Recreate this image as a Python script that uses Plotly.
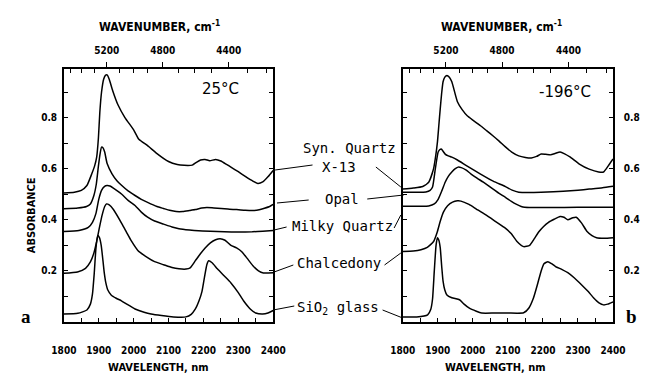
import plotly.graph_objects as go

# ---------------- data ----------------
# 25 °C panel
wl_syn_25 = [1800,1830,1850,1866,1880,1888,1894,1899,1903,1908,1914,1919,1924,1930,1940,1955,1975,2000,2015,2040,2066,2100,2125,2145,2168,2180,2192,2205,2218,2235,2250,2265,2280,2300,2320,2340,2356,2370,2385,2400]
ab_syn_25 = [0.505,0.508,0.515,0.534,0.58,0.61,0.645,0.72,0.82,0.9,0.95,0.965,0.967,0.95,0.905,0.85,0.8,0.752,0.715,0.69,0.66,0.628,0.616,0.613,0.614,0.625,0.634,0.636,0.631,0.636,0.63,0.618,0.605,0.588,0.57,0.553,0.542,0.548,0.568,0.593]

wl_opal_25 = [1800,1840,1865,1876,1886,1893,1899,1904,1908,1912,1917,1924,1938,1952,1966,1985,2004,2022,2040,2067,2086,2103,2122,2141,2160,2177,2195,2210,2230,2251,2275,2295,2320,2342,2360,2375,2390,2400]
ab_opal_25 = [0.443,0.446,0.452,0.462,0.495,0.54,0.61,0.66,0.684,0.682,0.665,0.62,0.58,0.553,0.534,0.512,0.495,0.48,0.468,0.452,0.444,0.437,0.432,0.432,0.436,0.44,0.446,0.448,0.446,0.444,0.441,0.44,0.437,0.436,0.439,0.445,0.452,0.46]

wl_milky_25 = [1800,1843,1870,1882,1892,1900,1908,1916,1924,1932,1948,1966,1985,2004,2022,2040,2060,2086,2110,2130,2160,2186,2220,2260,2300,2340,2370,2400]
ab_milky_25 = [0.354,0.358,0.37,0.39,0.425,0.48,0.515,0.53,0.534,0.532,0.518,0.5,0.475,0.456,0.43,0.41,0.395,0.383,0.372,0.365,0.36,0.357,0.355,0.353,0.352,0.353,0.355,0.358]

wl_chal_25 = [1800,1839,1862,1876,1886,1894,1902,1910,1917,1922,1930,1942,1966,1980,1993,2012,2040,2060,2086,2110,2130,2150,2162,2177,2192,2205,2220,2235,2248,2262,2279,2295,2310,2325,2342,2358,2372,2400]
ab_chal_25 = [0.191,0.196,0.21,0.235,0.27,0.315,0.37,0.42,0.452,0.462,0.458,0.44,0.385,0.35,0.318,0.28,0.252,0.236,0.224,0.213,0.208,0.207,0.212,0.24,0.268,0.29,0.31,0.322,0.326,0.32,0.3,0.29,0.275,0.25,0.22,0.2,0.192,0.193]

wl_sio2_25 = [1800,1840,1866,1876,1882,1887,1892,1897,1902,1907,1912,1916,1920,1926,1936,1950,1965,1980,2004,2030,2050,2080,2114,2150,2165,2177,2188,2196,2203,2210,2215,2225,2240,2260,2279,2300,2315,2335,2350,2370,2385,2400]
ab_sio2_25 = [0.031,0.034,0.047,0.07,0.11,0.19,0.29,0.338,0.33,0.3,0.24,0.19,0.155,0.125,0.105,0.093,0.083,0.07,0.051,0.038,0.031,0.025,0.02,0.02,0.03,0.051,0.085,0.12,0.175,0.225,0.24,0.232,0.208,0.18,0.153,0.115,0.083,0.05,0.035,0.031,0.035,0.045]

# -196 °C panel
wl_syn_196 = [1800,1830,1857,1874,1888,1894,1899,1903,1907,1911,1915,1920,1926,1933,1940,1956,1970,1984,2000,2022,2040,2058,2075,2093,2111,2131,2150,2167,2182,2195,2208,2222,2236,2249,2262,2277,2304,2332,2359,2373,2386,2400]
ab_syn_196 = [0.52,0.524,0.53,0.547,0.6,0.65,0.705,0.77,0.835,0.895,0.94,0.958,0.965,0.958,0.94,0.862,0.83,0.807,0.79,0.768,0.748,0.728,0.708,0.685,0.665,0.65,0.644,0.642,0.648,0.657,0.656,0.654,0.66,0.665,0.658,0.646,0.618,0.598,0.587,0.587,0.61,0.638]

wl_opal_196 = [1800,1840,1866,1878,1885,1893,1901,1906,1910,1915,1921,1930,1940,1956,1984,2022,2058,2093,2112,2131,2160,2195,2230,2258,2300,2332,2370,2400]
ab_opal_196 = [0.508,0.508,0.509,0.515,0.528,0.6,0.665,0.675,0.677,0.668,0.657,0.65,0.645,0.634,0.61,0.579,0.551,0.53,0.516,0.508,0.507,0.508,0.51,0.512,0.516,0.52,0.525,0.531]

wl_milky_196 = [1800,1850,1874,1890,1901,1912,1921,1930,1940,1950,1958,1967,1980,1995,2012,2030,2058,2075,2093,2110,2125,2138,2148,2170,2220,2300,2400]
ab_milky_196 = [0.453,0.453,0.454,0.462,0.48,0.515,0.547,0.57,0.587,0.6,0.606,0.604,0.595,0.579,0.563,0.547,0.52,0.503,0.488,0.472,0.46,0.452,0.449,0.448,0.448,0.449,0.449]

wl_chal_196 = [1800,1830,1852,1870,1888,1898,1907,1916,1928,1942,1956,1966,1989,2010,2036,2060,2090,2110,2126,2145,2162,2175,2189,2202,2216,2232,2249,2260,2271,2285,2295,2310,2326,2340,2353,2375,2400]
ab_chal_196 = [0.276,0.278,0.283,0.292,0.315,0.35,0.394,0.43,0.455,0.469,0.474,0.473,0.46,0.442,0.42,0.398,0.37,0.345,0.315,0.295,0.3,0.325,0.354,0.374,0.39,0.402,0.413,0.41,0.4,0.408,0.41,0.388,0.354,0.338,0.33,0.328,0.33]

wl_sio2_196 = [1800,1840,1871,1880,1885,1890,1895,1899,1903,1907,1911,1915,1920,1926,1940,1962,1975,1989,2010,2025,2063,2100,2145,2160,2173,2185,2195,2203,2214,2225,2236,2255,2271,2290,2310,2330,2345,2360,2373,2385,2400]
ab_sio2_196 = [0.02,0.02,0.028,0.05,0.09,0.2,0.3,0.33,0.32,0.29,0.22,0.16,0.125,0.106,0.095,0.087,0.07,0.055,0.042,0.035,0.035,0.035,0.036,0.055,0.094,0.15,0.2,0.228,0.236,0.228,0.217,0.205,0.193,0.172,0.146,0.118,0.094,0.075,0.067,0.07,0.079]

wl_ticks = [1800, 1900, 2000, 2100, 2200, 2300, 2400]
abs_ticks = [0.2, 0.4, 0.6, 0.8]
abs_minor = [0.1, 0.3, 0.5, 0.7, 0.9]
wn_major = [5200, 4800, 4400]
wn_minor = [5500, 5400, 5300, 5100, 5000, 4900, 4700, 4600, 4500, 4300, 4200]
sample_labels = ["Syn. Quartz", "X-13", "Opal", "Milky Quartz", "Chalcedony", "SiO<sub>2</sub> glass"]

# ---------------- figure ----------------
W, H = 650, 374
def fx(p): return p / W
def fy(p): return 1 - p / H

fig = go.Figure()
line = dict(color="black", width=1.5, shape="spline", smoothing=0.5)
left = [(wl_syn_25, ab_syn_25), (wl_opal_25, ab_opal_25), (wl_milky_25, ab_milky_25),
        (wl_chal_25, ab_chal_25), (wl_sio2_25, ab_sio2_25)]
right = [(wl_syn_196, ab_syn_196), (wl_opal_196, ab_opal_196), (wl_milky_196, ab_milky_196),
         (wl_chal_196, ab_chal_196), (wl_sio2_196, ab_sio2_196)]
for xs, ys in left:
    fig.add_trace(go.Scatter(x=xs, y=ys, mode="lines", line=line, xaxis="x", yaxis="y",
                             hoverinfo="skip", showlegend=False))
for xs, ys in right:
    fig.add_trace(go.Scatter(x=xs, y=ys, mode="lines", line=line, xaxis="x2", yaxis="y2",
                             hoverinfo="skip", showlegend=False))
# carriers for the top (wavenumber) axes
for xa, ya in (("x3", "y"), ("x4", "y2")):
    fig.add_trace(go.Scatter(x=[1800, 2400], y=[0.5, 0.5], mode="lines", opacity=0,
                             line=dict(width=0), xaxis=xa, yaxis=ya, hoverinfo="skip",
                             showlegend=False))

COND = "DejaVu Sans Condensed, Liberation Sans, sans-serif"
tfont = dict(family=COND, size=10, color="black", weight="bold")
dom_y = [fy(322), fy(69)]
dom_l = [fx(53), fx(271)]
dom_r = [fx(406), fx(625)]

def xbottom(dom, anchor):
    return dict(domain=dom, anchor=anchor, range=[1800, 2400], tickmode="array",
                tickvals=wl_ticks, ticktext=[str(v) for v in wl_ticks], ticks="inside",
                ticklen=4, tickwidth=1.2, tickcolor="black",
                minor=dict(tickmode="linear", tick0=1800, dtick=50, ticks="inside",
                           ticklen=4, tickwidth=1.2, tickcolor="black"),
                showline=True, linewidth=1.5, linecolor="black", mirror=False,
                showgrid=False, zeroline=False, tickfont=tfont, ticklabelstandoff=18)

def xtop(over, anchor):
    return dict(overlaying=over, anchor=anchor, side="top", range=[1800, 2400],
                tickmode="array", tickvals=[1e7 / w for w in wn_major],
                ticktext=[str(w) for w in wn_major], ticks="outside", ticklen=5,
                tickwidth=1.2, tickcolor="black",
                minor=dict(tickmode="array", tickvals=[1e7 / w for w in wn_minor],
                           ticks="inside", ticklen=4, tickwidth=1.2, tickcolor="black"),
                showline=True, linewidth=1.5, linecolor="black", showgrid=False,
                zeroline=False, tickfont=tfont, ticklabelstandoff=4)

def yax(anchor, side, standoff):
    return dict(domain=dom_y, anchor=anchor, side=side, range=[0, 0.99], tickmode="array",
                tickvals=abs_ticks, ticktext=["%.1f" % v for v in abs_ticks],
                ticks="inside", ticklen=4, tickwidth=1.2, tickcolor="black",
                minor=dict(tickmode="array", tickvals=abs_minor, ticks="inside",
                           ticklen=4, tickwidth=1.2, tickcolor="black"),
                showline=True, linewidth=1.5, linecolor="black", mirror="ticks",
                showgrid=False, zeroline=False, tickfont=tfont,
                ticklabelstandoff=standoff)

ann = []
def txt(x, y, s, size, family=COND, weight="bold", angle=0):
    ann.append(dict(x=fx(x), y=fy(y), xref="paper", yref="paper", text=s, showarrow=False,
                    xanchor="center", yanchor="middle", textangle=angle,
                    font=dict(family=family, size=size, color="black", weight=weight)))

txt(153, 26, "WAVENUMBER, cm<sup>-1</sup>", 12)
txt(509, 26, "WAVENUMBER, cm<sup>-1</sup>", 12)
txt(152, 367, "WAVELENGTH, nm", 11)
txt(503, 367, "WAVELENGTH, nm", 11)
txt(19, 215, "ABSORBANCE", 11, angle=-90)
txt(216, 89, "25°C", 15, family="DejaVu Sans", weight="normal")
txt(575, 92, "-196°C", 15, family="DejaVu Sans", weight="normal")
txt(14, 316, "a", 19, family="Liberation Serif", weight="bold")
txt(644, 316, "b", 19, family="Liberation Serif", weight="bold")

mono = "DejaVu Sans Mono"
lab_pos = [(350, 148), (340, 167), (343, 199), (343, 226), (340, 263), (339, 308)]
for s, (x, y) in zip(sample_labels, lab_pos):
    txt(x, y, s, 14, family=mono, weight="normal")

leaders = [((273, 170), (312, 165)), ((275, 203), (308, 200)), ((272, 230), (285, 227)),
           ((272, 272), (292, 265)), ((271, 310), (293, 306)),
           ((378, 167), (404, 187)), ((369, 199), (407, 195)), ((397, 228), (404, 215)),
           ((387, 265), (404, 253)), ((385, 310), (406, 318))]
shapes = [dict(type="line", xref="paper", yref="paper", x0=fx(a[0]), y0=fy(a[1]),
               x1=fx(b[0]), y1=fy(b[1]), line=dict(color="black", width=1))
          for a, b in leaders]

fig.update_layout(
    width=W, height=H, margin=dict(l=0, r=0, t=0, b=0),
    paper_bgcolor="white", plot_bgcolor="white", showlegend=False,
    xaxis=xbottom(dom_l, "y"), xaxis2=xbottom(dom_r, "y2"),
    xaxis3=xtop("x", "y"), xaxis4=xtop("x2", "y2"),
    yaxis=yax("x", "left", 3), yaxis2=yax("x2", "right", 7),
    annotations=ann, shapes=shapes,
)

fig.write_html("out.html")
